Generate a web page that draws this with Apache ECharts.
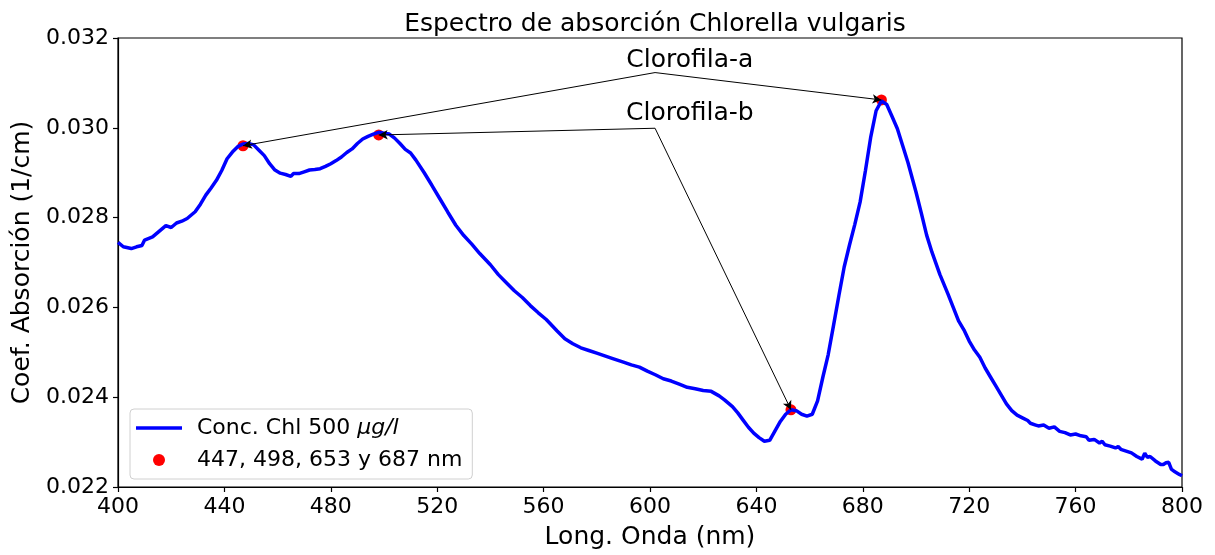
<!DOCTYPE html>
<html>
<head>
<meta charset="utf-8">
<title>Espectro de absorción Chlorella vulgaris</title>
<script src="https://cdn.jsdelivr.net/npm/echarts@6/dist/echarts.min.js"></script>
<style>
  html, body { margin: 0; padding: 0; background: #fff; }
  #chart { width: 1215px; height: 555px; }
</style>
</head>
<body>
<div id="chart"></div>
<script>
// Absorption spectrum: wavelength (nm) and absorption coefficient (1/cm)
const wavelength = [
  400, 402, 405, 407, 409, 410, 413, 416, 418, 420, 422, 424, 426, 429, 431, 433, 435, 437, 439, 441,
  443, 445, 447, 449, 451, 453, 455, 457, 459, 461, 463, 465, 466, 468, 470, 472, 474, 476, 478, 480,
  482, 484, 486, 488, 490, 492, 494, 496, 498, 500, 502, 504, 506, 508, 510, 512, 515, 518, 521, 524,
  527, 530, 533, 536, 540, 543, 546, 549, 552, 555, 558, 561, 565, 568, 571, 574, 577, 580, 583, 586,
  590, 593, 596, 599, 602, 605, 608, 611, 614, 617, 620, 623, 626, 628, 631, 633, 635, 637, 639, 641,
  643, 645, 647, 649, 651, 653, 655, 657, 659, 661, 663, 665, 667, 669, 671, 673, 675, 677, 679, 681,
  683, 685, 687, 689, 691, 693, 695, 697, 700, 702, 704, 706, 709, 712, 714, 716, 718, 720, 722, 724,
  726, 728, 730, 732, 734, 736, 738, 740, 742, 743, 745, 746, 748, 750, 752, 754, 756, 758, 760, 762,
  764, 765, 767, 769, 770, 771, 773, 775, 776, 777, 779, 781, 783, 785, 786, 787, 788, 790, 792, 793,
  794, 795, 796, 797, 799, 800
];
const absorption = [
  0.02745, 0.02735, 0.02731, 0.02735, 0.02738, 0.02750, 0.02757, 0.02772, 0.02782, 0.02778,
  0.02788, 0.02792, 0.02798, 0.02813, 0.02830, 0.02850, 0.02866, 0.02883, 0.02905, 0.02931,
  0.02946, 0.02958, 0.02964, 0.02965, 0.02962, 0.02950, 0.02938, 0.02920, 0.02906, 0.02899,
  0.02896, 0.02892, 0.02898, 0.02898, 0.02902, 0.02906, 0.02907, 0.02909, 0.02914, 0.02920,
  0.02927, 0.02935, 0.02945, 0.02953, 0.02965, 0.02975, 0.02981, 0.02986, 0.02990, 0.02988,
  0.02986, 0.02977, 0.02965, 0.02952, 0.02944, 0.02928, 0.02901, 0.02872, 0.02842, 0.02812,
  0.02783, 0.02760, 0.02741, 0.02720, 0.02695, 0.02673, 0.02655, 0.02637, 0.02622, 0.02604,
  0.02588, 0.02573, 0.02548, 0.02530, 0.02519, 0.02510, 0.02504, 0.02498, 0.02492, 0.02486,
  0.02478, 0.02472, 0.02467, 0.02458, 0.02450, 0.02441, 0.02436, 0.02429, 0.02422, 0.02419,
  0.02415, 0.02413, 0.02403, 0.02394, 0.02379, 0.02365, 0.02349, 0.02333, 0.02320, 0.02310,
  0.02302, 0.02304, 0.02325, 0.02346, 0.02362, 0.02372, 0.02370, 0.02362, 0.02358, 0.02362,
  0.02392, 0.02445, 0.02495, 0.02560, 0.02626, 0.02690, 0.02739, 0.02785, 0.02835, 0.02905,
  0.02980, 0.03038, 0.03060, 0.03052, 0.03025, 0.02998, 0.02960, 0.02922, 0.02857, 0.02810,
  0.02761, 0.02723, 0.02673, 0.02630, 0.02600, 0.02570, 0.02550, 0.02525, 0.02505, 0.02489,
  0.02465, 0.02445, 0.02425, 0.02405, 0.02385, 0.02370, 0.02360, 0.02354, 0.02348, 0.02342,
  0.02338, 0.02336, 0.02338, 0.02331, 0.02334, 0.02324, 0.02321, 0.02316, 0.02318, 0.02314,
  0.02312, 0.02304, 0.02306, 0.02298, 0.02302, 0.02294, 0.02291, 0.02287, 0.02290, 0.02284,
  0.02280, 0.02276, 0.02268, 0.02262, 0.02275, 0.02266, 0.02268, 0.02258, 0.02250, 0.02250,
  0.02254, 0.02255, 0.02240, 0.02235, 0.02228, 0.02225
];

// Chlorophyll peaks marked in red
const peakWavelength = [447, 498, 653, 687];
const peakAbsorption = [0.0296, 0.02984, 0.02372, 0.03062];

// Annotation text anchors (data coordinates) and the peaks each one points to
const annotationNames = ['Clorofila-a', 'Clorofila-b'];
const annotationText = [[615, 0.03151], [615, 0.03031]];
const annotationTail = [[601.9, 0.03123], [601.9, 0.02999]];
const annotationTargets = [[0, 3], [1, 2]]; // indices into the peak arrays

// Axis settings
const xTicks = { min: 400, max: 800, interval: 40 };
const yTicks = { min: 0.022, max: 0.032, interval: 0.002 };

const lineName = 'Conc. Chl 500 µg/l';
const peakName = '447, 498, 653 y 687 nm';
const FONT = '"DejaVu Sans", sans-serif';

const lineData = wavelength.map((w, i) => [w, absorption[i]]);
const peakData = peakWavelength.map((w, i) => [w, peakAbsorption[i]]);

const arrowLines = [];
annotationTargets.forEach((targets, a) => {
  targets.forEach(t => {
    arrowLines.push([
      { coord: annotationTail[a] },
      { coord: [peakWavelength[t], peakAbsorption[t]] }
    ]);
  });
});

const chart = echarts.init(document.getElementById('chart'), null, { renderer: 'canvas' });

chart.setOption({
  animation: false,
  backgroundColor: '#fff',
  textStyle: { fontFamily: FONT },
  title: {
    text: 'Espectro de absorción Chlorella vulgaris',
    left: 650,
    textAlign: 'center',
    top: 7,
    textStyle: { fontFamily: FONT, fontSize: 25, fontWeight: 'normal', color: '#000' }
  },
  grid: {
    left: 118, right: 33, top: 38, bottom: 64,
    show: true, borderColor: '#000', borderWidth: 1.2, backgroundColor: 'transparent'
  },
  legend: {
    orient: 'vertical',
    left: 130,
    top: 409,
    padding: [8, 10, 8, 6],
    itemGap: 10,
    itemWidth: 46,
    itemHeight: 12,
    backgroundColor: '#fff',
    borderColor: '#d0d0d0',
    borderWidth: 1,
    borderRadius: 4,
    data: [
      { name: lineName, icon: 'path://M0,0H46V3.5H0Z', itemStyle: { color: '#0000ff' } },
      { name: peakName, icon: 'circle' }
    ],
    formatter: name => name === lineName ? 'Conc. Chl 500 {it|µg/l}' : name,
    textStyle: {
      fontFamily: FONT, fontSize: 22, color: '#000', padding: [0, 0, 0, 10],
      rich: { it: { fontFamily: FONT, fontSize: 22, fontStyle: 'italic', color: '#000' } }
    }
  },
  xAxis: {
    type: 'value',
    min: xTicks.min, max: xTicks.max, interval: xTicks.interval,
    name: 'Long. Onda (nm)',
    nameLocation: 'middle',
    nameGap: 38,
    nameTextStyle: { fontFamily: FONT, fontSize: 25, color: '#000' },
    axisLine: { show: true, onZero: false, lineStyle: { color: '#000', width: 1.2 } },
    axisTick: { show: true, length: 5, lineStyle: { color: '#000', width: 1.2 } },
    axisLabel: { fontFamily: FONT, fontSize: 22, color: '#000', margin: 9 },
    splitLine: { show: false }
  },
  yAxis: {
    type: 'value',
    min: yTicks.min, max: yTicks.max, interval: yTicks.interval,
    name: 'Coef. Absorción (1/cm)',
    nameLocation: 'middle',
    nameGap: 76,
    nameTextStyle: { fontFamily: FONT, fontSize: 25, color: '#000' },
    axisLine: { show: true, onZero: false, lineStyle: { color: '#000', width: 1.2 } },
    axisTick: { show: true, length: 5, lineStyle: { color: '#000', width: 1.2 } },
    axisLabel: { fontFamily: FONT, fontSize: 22, color: '#000', margin: 9, formatter: v => v.toFixed(3) },
    splitLine: { show: false }
  },
  series: [
    {
      name: peakName,
      type: 'scatter',
      data: peakData,
      symbol: 'circle',
      symbolSize: 11,
      itemStyle: { color: '#ff0000', opacity: 1 },
      z: 2
    },
    {
      name: lineName,
      type: 'line',
      data: lineData,
      showSymbol: false,
      symbol: 'none',
      lineStyle: { color: '#0000ff', width: 3.5 },
      itemStyle: { color: '#0000ff' },
      z: 3,
      markLine: {
        silent: true,
        symbol: ['none', 'arrow'],
        symbolSize: [7, 9],
        label: { show: false },
        lineStyle: { color: '#000', width: 1, type: 'solid' },
        emphasis: { disabled: true },
        data: arrowLines
      },
      markPoint: {
        silent: true,
        symbol: 'rect',
        symbolSize: 0,
        label: {
          show: true, position: 'inside',
          fontFamily: FONT, fontSize: 25, color: '#000',
          formatter: p => p.name
        },
        data: annotationNames.map((n, i) => ({ name: n, coord: annotationText[i] }))
      }
    }
  ]
});
</script>
</body>
</html>
